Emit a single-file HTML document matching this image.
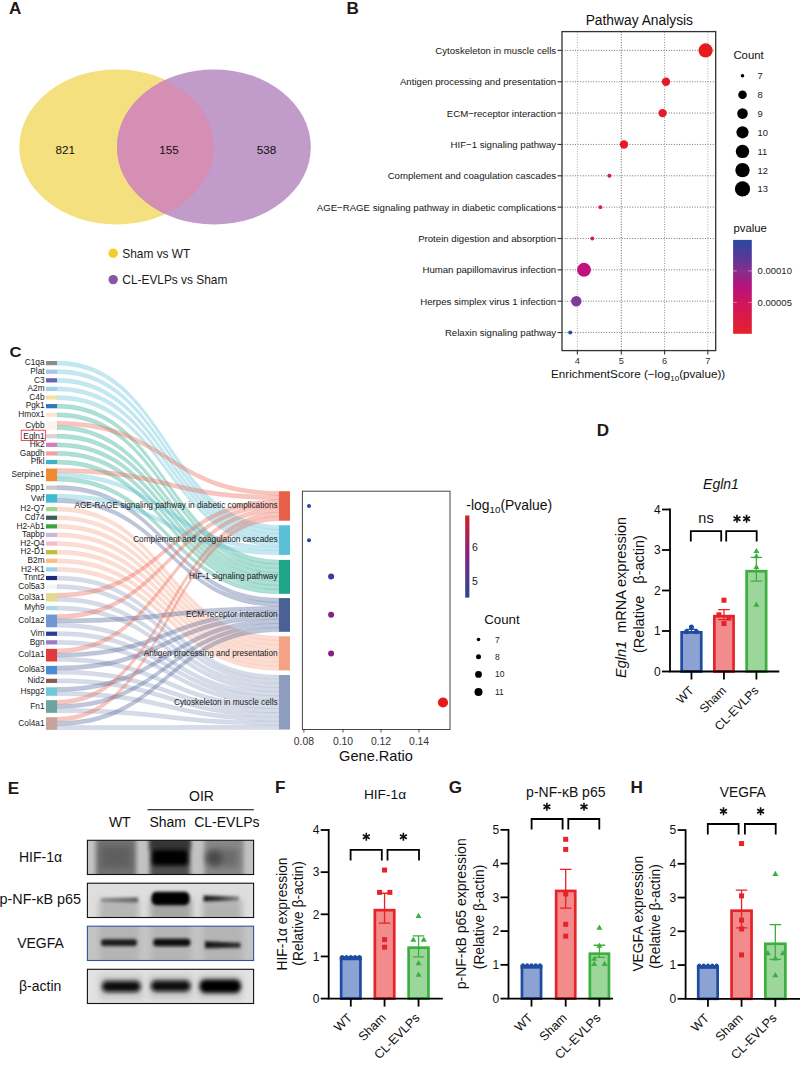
<!DOCTYPE html>
<html><head><meta charset="utf-8"><style>
html,body{margin:0;padding:0;background:#fff;}
svg{display:block;font-family:"Liberation Sans", sans-serif;}
</style></head><body>
<svg width="800" height="1066" viewBox="0 0 800 1066">
<rect width="800" height="1066" fill="#fff"/>
<text x="9.00" y="14.00" font-size="16" text-anchor="start" font-weight="bold" font-style="normal" fill="#231815" transform="translate(9.00 14.00) scale(1.07 1) translate(-9.00 -14.00)">A</text>
<defs><clipPath id="cpP"><ellipse cx="213.9" cy="147" rx="96.9" ry="77.6"/></clipPath></defs>
<ellipse cx="116.5" cy="147" rx="97.2" ry="77.6" fill="#F5E07F"/>
<ellipse cx="213.9" cy="147" rx="96.9" ry="77.6" fill="#C19BC9"/>
<ellipse cx="116.5" cy="147" rx="97.2" ry="77.6" fill="#D58FB4" clip-path="url(#cpP)"/>
<text x="65.20" y="154.20" font-size="11.7" text-anchor="middle" font-weight="normal" font-style="normal" fill="#111" >821</text>
<text x="169.00" y="154.20" font-size="11.7" text-anchor="middle" font-weight="normal" font-style="normal" fill="#111" >155</text>
<text x="266.60" y="154.20" font-size="11.7" text-anchor="middle" font-weight="normal" font-style="normal" fill="#111" >538</text>
<circle cx="113.2" cy="253.3" r="4.7" fill="#F2CE2A"/>
<circle cx="113.2" cy="279.6" r="4.7" fill="#8A55A6"/>
<text x="122.30" y="257.70" font-size="11.9" text-anchor="start" font-weight="normal" font-style="normal" fill="#1a1a1a" >Sham vs WT</text>
<text x="122.30" y="284.20" font-size="11.9" text-anchor="start" font-weight="normal" font-style="normal" fill="#1a1a1a" >CL-EVLPs vs Sham</text>
<text x="346.50" y="13.80" font-size="16" text-anchor="start" font-weight="bold" font-style="normal" fill="#231815" transform="translate(346.50 13.80) scale(1.07 1) translate(-346.50 -13.80)">B</text>
<text x="639.35" y="24.50" font-size="13.8" text-anchor="middle" font-weight="normal" font-style="normal" fill="#111" >Pathway Analysis</text>
<line x1="577.4" y1="31.6" x2="577.4" y2="350.6" stroke="#a0a0a0" stroke-width="0.9" stroke-dasharray="1 1.6"/>
<line x1="621.3" y1="31.6" x2="621.3" y2="350.6" stroke="#505050" stroke-width="0.9" stroke-dasharray="1 1.6"/>
<line x1="664.6" y1="31.6" x2="664.6" y2="350.6" stroke="#808080" stroke-width="0.9" stroke-dasharray="1 1.6"/>
<line x1="707.8" y1="31.6" x2="707.8" y2="350.6" stroke="#a8a8a8" stroke-width="0.9" stroke-dasharray="1 1.6"/>
<line x1="562.0" y1="50.40" x2="715.7" y2="50.40" stroke="#666" stroke-width="0.9" stroke-dasharray="1 1.6"/>
<line x1="562.0" y1="81.75" x2="715.7" y2="81.75" stroke="#666" stroke-width="0.9" stroke-dasharray="1 1.6"/>
<line x1="562.0" y1="113.10" x2="715.7" y2="113.10" stroke="#666" stroke-width="0.9" stroke-dasharray="1 1.6"/>
<line x1="562.0" y1="144.45" x2="715.7" y2="144.45" stroke="#666" stroke-width="0.9" stroke-dasharray="1 1.6"/>
<line x1="562.0" y1="175.80" x2="715.7" y2="175.80" stroke="#666" stroke-width="0.9" stroke-dasharray="1 1.6"/>
<line x1="562.0" y1="207.15" x2="715.7" y2="207.15" stroke="#666" stroke-width="0.9" stroke-dasharray="1 1.6"/>
<line x1="562.0" y1="238.50" x2="715.7" y2="238.50" stroke="#666" stroke-width="0.9" stroke-dasharray="1 1.6"/>
<line x1="562.0" y1="269.85" x2="715.7" y2="269.85" stroke="#666" stroke-width="0.9" stroke-dasharray="1 1.6"/>
<line x1="562.0" y1="301.20" x2="715.7" y2="301.20" stroke="#666" stroke-width="0.9" stroke-dasharray="1 1.6"/>
<line x1="562.0" y1="332.55" x2="715.7" y2="332.55" stroke="#666" stroke-width="0.9" stroke-dasharray="1 1.6"/>
<rect x="562.0" y="31.6" width="153.70" height="319.00" fill="none" stroke="#333" stroke-width="1.3"/>
<line x1="557.5" y1="50.40" x2="562.0" y2="50.40" stroke="#333" stroke-width="1.1"/>
<text x="556.20" y="53.80" font-size="9.65" text-anchor="end" font-weight="normal" font-style="normal" fill="#151515" >Cytoskeleton in muscle cells</text>
<line x1="557.5" y1="81.75" x2="562.0" y2="81.75" stroke="#333" stroke-width="1.1"/>
<text x="556.20" y="85.15" font-size="9.65" text-anchor="end" font-weight="normal" font-style="normal" fill="#151515" >Antigen processing and presentation</text>
<line x1="557.5" y1="113.10" x2="562.0" y2="113.10" stroke="#333" stroke-width="1.1"/>
<text x="556.20" y="116.50" font-size="9.65" text-anchor="end" font-weight="normal" font-style="normal" fill="#151515" >ECM−receptor interaction</text>
<line x1="557.5" y1="144.45" x2="562.0" y2="144.45" stroke="#333" stroke-width="1.1"/>
<text x="556.20" y="147.85" font-size="9.65" text-anchor="end" font-weight="normal" font-style="normal" fill="#151515" >HIF−1 signaling pathway</text>
<line x1="557.5" y1="175.80" x2="562.0" y2="175.80" stroke="#333" stroke-width="1.1"/>
<text x="556.20" y="179.20" font-size="9.65" text-anchor="end" font-weight="normal" font-style="normal" fill="#151515" >Complement and coagulation cascades</text>
<line x1="557.5" y1="207.15" x2="562.0" y2="207.15" stroke="#333" stroke-width="1.1"/>
<text x="556.20" y="210.55" font-size="9.65" text-anchor="end" font-weight="normal" font-style="normal" fill="#151515" >AGE−RAGE signaling pathway in diabetic complications</text>
<line x1="557.5" y1="238.50" x2="562.0" y2="238.50" stroke="#333" stroke-width="1.1"/>
<text x="556.20" y="241.90" font-size="9.65" text-anchor="end" font-weight="normal" font-style="normal" fill="#151515" >Protein digestion and absorption</text>
<line x1="557.5" y1="269.85" x2="562.0" y2="269.85" stroke="#333" stroke-width="1.1"/>
<text x="556.20" y="273.25" font-size="9.65" text-anchor="end" font-weight="normal" font-style="normal" fill="#151515" >Human papillomavirus infection</text>
<line x1="557.5" y1="301.20" x2="562.0" y2="301.20" stroke="#333" stroke-width="1.1"/>
<text x="556.20" y="304.60" font-size="9.65" text-anchor="end" font-weight="normal" font-style="normal" fill="#151515" >Herpes simplex virus 1 infection</text>
<line x1="557.5" y1="332.55" x2="562.0" y2="332.55" stroke="#333" stroke-width="1.1"/>
<text x="556.20" y="335.95" font-size="9.65" text-anchor="end" font-weight="normal" font-style="normal" fill="#151515" >Relaxin signaling pathway</text>
<line x1="577.4" y1="350.6" x2="577.4" y2="354.40000000000003" stroke="#333" stroke-width="1.1"/>
<text x="577.40" y="363.70" font-size="9.3" text-anchor="middle" font-weight="normal" font-style="normal" fill="#333" >4</text>
<line x1="621.3" y1="350.6" x2="621.3" y2="354.40000000000003" stroke="#333" stroke-width="1.1"/>
<text x="621.30" y="363.70" font-size="9.3" text-anchor="middle" font-weight="normal" font-style="normal" fill="#333" >5</text>
<line x1="664.6" y1="350.6" x2="664.6" y2="354.40000000000003" stroke="#333" stroke-width="1.1"/>
<text x="664.60" y="363.70" font-size="9.3" text-anchor="middle" font-weight="normal" font-style="normal" fill="#333" >6</text>
<line x1="707.8" y1="350.6" x2="707.8" y2="354.40000000000003" stroke="#333" stroke-width="1.1"/>
<text x="707.80" y="363.70" font-size="9.3" text-anchor="middle" font-weight="normal" font-style="normal" fill="#333" >7</text>
<text x="551.0" y="378.4" font-size="11.7" fill="#111">EnrichmentScore (−log<tspan font-size="8" dy="2.5">10</tspan><tspan dy="-2.5">(pvalue))</tspan></text>
<circle cx="705.6" cy="50.40" r="7.1" fill="#E41A1C"/>
<circle cx="666.0" cy="81.75" r="4.2" fill="#E31C26"/>
<circle cx="662.6" cy="113.10" r="4.2" fill="#E31C28"/>
<circle cx="624.0" cy="144.45" r="4.2" fill="#E21C2C"/>
<circle cx="609.4" cy="175.80" r="2.0" fill="#DC1A44"/>
<circle cx="600.4" cy="207.15" r="1.95" fill="#DA1A4A"/>
<circle cx="592.3" cy="238.50" r="1.95" fill="#D11860"/>
<circle cx="584.0" cy="269.85" r="7.0" fill="#C0117F"/>
<circle cx="576.3" cy="301.20" r="5.2" fill="#7E3A96"/>
<circle cx="570.2" cy="332.55" r="1.95" fill="#1E4AA0"/>
<text x="733.40" y="58.80" font-size="11.4" text-anchor="start" font-weight="normal" font-style="normal" fill="#111" >Count</text>
<circle cx="742.5" cy="75.7" r="1.8" fill="#000"/>
<text x="757.60" y="79.10" font-size="9.4" text-anchor="start" font-weight="normal" font-style="normal" fill="#222" >7</text>
<circle cx="742.5" cy="94.8" r="4.3" fill="#000"/>
<text x="757.60" y="98.20" font-size="9.4" text-anchor="start" font-weight="normal" font-style="normal" fill="#222" >8</text>
<circle cx="742.5" cy="113.6" r="5.3" fill="#000"/>
<text x="757.60" y="117.00" font-size="9.4" text-anchor="start" font-weight="normal" font-style="normal" fill="#222" >9</text>
<circle cx="742.5" cy="132.3" r="6.1" fill="#000"/>
<text x="757.60" y="135.70" font-size="9.4" text-anchor="start" font-weight="normal" font-style="normal" fill="#222" >10</text>
<circle cx="742.5" cy="151.4" r="6.7" fill="#000"/>
<text x="757.60" y="154.80" font-size="9.4" text-anchor="start" font-weight="normal" font-style="normal" fill="#222" >11</text>
<circle cx="742.5" cy="170.1" r="7.2" fill="#000"/>
<text x="757.60" y="173.50" font-size="9.4" text-anchor="start" font-weight="normal" font-style="normal" fill="#222" >12</text>
<circle cx="742.5" cy="188.9" r="7.6" fill="#000"/>
<text x="757.60" y="192.30" font-size="9.4" text-anchor="start" font-weight="normal" font-style="normal" fill="#222" >13</text>
<text x="733.40" y="232.20" font-size="11.4" text-anchor="start" font-weight="normal" font-style="normal" fill="#111" >pvalue</text>
<defs><linearGradient id="gB" x1="0" y1="0" x2="0" y2="1"><stop offset="0" stop-color="#2B48A0"/><stop offset="0.18" stop-color="#55399A"/><stop offset="0.33" stop-color="#852E8C"/><stop offset="0.48" stop-color="#B3137F"/><stop offset="0.66" stop-color="#CF155E"/><stop offset="1" stop-color="#E6202A"/></linearGradient></defs>
<rect x="733.1" y="239.9" width="18.7" height="93.9" fill="url(#gB)"/>
<line x1="733.1" y1="270.9" x2="736.8" y2="270.9" stroke="#eee" stroke-width="0.7" opacity="0.7"/>
<line x1="748.1" y1="270.9" x2="751.8" y2="270.9" stroke="#eee" stroke-width="0.7" opacity="0.7"/>
<text x="757.60" y="274.30" font-size="9.5" text-anchor="start" font-weight="normal" font-style="normal" fill="#222" >0.00010</text>
<line x1="733.1" y1="302.4" x2="736.8" y2="302.4" stroke="#eee" stroke-width="0.7" opacity="0.7"/>
<line x1="748.1" y1="302.4" x2="751.8" y2="302.4" stroke="#eee" stroke-width="0.7" opacity="0.7"/>
<text x="757.60" y="305.80" font-size="9.5" text-anchor="start" font-weight="normal" font-style="normal" fill="#222" >0.00005</text>
<text x="9.40" y="356.60" font-size="15.5" text-anchor="start" font-weight="bold" font-style="normal" fill="#231815" transform="translate(9.40 356.60) scale(1.07 1) translate(-9.40 -356.60)">C</text>
<g>
<path d="M57.0,361.00 C168.0,361.00 168.0,525.30 279.0,525.30 L279.0,529.53 C168.0,529.53 168.0,365.22 57.0,365.22 Z" fill="#5BBFD6" fill-opacity="0.36" stroke="#5BBFD6" stroke-opacity="0.22" stroke-width="0.6"/>
<path d="M57.0,369.61 C168.0,369.61 168.0,529.53 279.0,529.53 L279.0,533.76 C168.0,533.76 168.0,373.83 57.0,373.83 Z" fill="#5BBFD6" fill-opacity="0.36" stroke="#5BBFD6" stroke-opacity="0.22" stroke-width="0.6"/>
<path d="M57.0,378.22 C168.0,378.22 168.0,533.76 279.0,533.76 L279.0,537.99 C168.0,537.99 168.0,382.44 57.0,382.44 Z" fill="#5BBFD6" fill-opacity="0.36" stroke="#5BBFD6" stroke-opacity="0.22" stroke-width="0.6"/>
<path d="M57.0,386.83 C168.0,386.83 168.0,537.99 279.0,537.99 L279.0,542.21 C168.0,542.21 168.0,391.05 57.0,391.05 Z" fill="#5BBFD6" fill-opacity="0.36" stroke="#5BBFD6" stroke-opacity="0.22" stroke-width="0.6"/>
<path d="M57.0,395.44 C168.0,395.44 168.0,542.21 279.0,542.21 L279.0,546.44 C168.0,546.44 168.0,399.66 57.0,399.66 Z" fill="#5BBFD6" fill-opacity="0.36" stroke="#5BBFD6" stroke-opacity="0.22" stroke-width="0.6"/>
<path d="M57.0,404.05 C168.0,404.05 168.0,559.90 279.0,559.90 L279.0,564.14 C168.0,564.14 168.0,408.27 57.0,408.27 Z" fill="#1FA58A" fill-opacity="0.36" stroke="#1FA58A" stroke-opacity="0.22" stroke-width="0.6"/>
<path d="M57.0,412.66 C168.0,412.66 168.0,564.14 279.0,564.14 L279.0,568.37 C168.0,568.37 168.0,416.88 57.0,416.88 Z" fill="#1FA58A" fill-opacity="0.36" stroke="#1FA58A" stroke-opacity="0.22" stroke-width="0.6"/>
<path d="M57.0,421.27 C168.0,421.27 168.0,491.20 279.0,491.20 L279.0,495.41 C168.0,495.41 168.0,425.49 57.0,425.49 Z" fill="#E8604A" fill-opacity="0.36" stroke="#E8604A" stroke-opacity="0.22" stroke-width="0.6"/>
<path d="M57.0,425.49 C168.0,425.49 168.0,568.38 279.0,568.38 L279.0,572.61 C168.0,572.61 168.0,429.71 57.0,429.71 Z" fill="#1FA58A" fill-opacity="0.36" stroke="#1FA58A" stroke-opacity="0.22" stroke-width="0.6"/>
<path d="M57.0,434.10 C168.0,434.10 168.0,572.61 279.0,572.61 L279.0,576.85 C168.0,576.85 168.0,438.32 57.0,438.32 Z" fill="#1FA58A" fill-opacity="0.36" stroke="#1FA58A" stroke-opacity="0.22" stroke-width="0.6"/>
<path d="M57.0,442.71 C168.0,442.71 168.0,576.85 279.0,576.85 L279.0,581.09 C168.0,581.09 168.0,446.93 57.0,446.93 Z" fill="#1FA58A" fill-opacity="0.36" stroke="#1FA58A" stroke-opacity="0.22" stroke-width="0.6"/>
<path d="M57.0,451.32 C168.0,451.32 168.0,581.09 279.0,581.09 L279.0,585.32 C168.0,585.32 168.0,455.54 57.0,455.54 Z" fill="#1FA58A" fill-opacity="0.36" stroke="#1FA58A" stroke-opacity="0.22" stroke-width="0.6"/>
<path d="M57.0,459.93 C168.0,459.93 168.0,585.32 279.0,585.32 L279.0,589.56 C168.0,589.56 168.0,464.15 57.0,464.15 Z" fill="#1FA58A" fill-opacity="0.36" stroke="#1FA58A" stroke-opacity="0.22" stroke-width="0.6"/>
<path d="M57.0,468.54 C168.0,468.54 168.0,495.41 279.0,495.41 L279.0,499.63 C168.0,499.63 168.0,472.76 57.0,472.76 Z" fill="#E8604A" fill-opacity="0.36" stroke="#E8604A" stroke-opacity="0.22" stroke-width="0.6"/>
<path d="M57.0,472.76 C168.0,472.76 168.0,546.44 279.0,546.44 L279.0,550.67 C168.0,550.67 168.0,476.98 57.0,476.98 Z" fill="#5BBFD6" fill-opacity="0.36" stroke="#5BBFD6" stroke-opacity="0.22" stroke-width="0.6"/>
<path d="M57.0,476.98 C168.0,476.98 168.0,589.56 279.0,589.56 L279.0,593.80 C168.0,593.80 168.0,481.20 57.0,481.20 Z" fill="#1FA58A" fill-opacity="0.36" stroke="#1FA58A" stroke-opacity="0.22" stroke-width="0.6"/>
<path d="M57.0,485.59 C168.0,485.59 168.0,598.10 279.0,598.10 L279.0,602.31 C168.0,602.31 168.0,489.81 57.0,489.81 Z" fill="#4B6196" fill-opacity="0.36" stroke="#4B6196" stroke-opacity="0.22" stroke-width="0.6"/>
<path d="M57.0,494.20 C168.0,494.20 168.0,550.67 279.0,550.67 L279.0,554.90 C168.0,554.90 168.0,498.42 57.0,498.42 Z" fill="#5BBFD6" fill-opacity="0.36" stroke="#5BBFD6" stroke-opacity="0.22" stroke-width="0.6"/>
<path d="M57.0,498.42 C168.0,498.42 168.0,602.31 279.0,602.31 L279.0,606.52 C168.0,606.52 168.0,502.64 57.0,502.64 Z" fill="#4B6196" fill-opacity="0.36" stroke="#4B6196" stroke-opacity="0.22" stroke-width="0.6"/>
<path d="M57.0,507.03 C168.0,507.03 168.0,636.30 279.0,636.30 L279.0,640.56 C168.0,640.56 168.0,511.25 57.0,511.25 Z" fill="#F4A285" fill-opacity="0.36" stroke="#F4A285" stroke-opacity="0.22" stroke-width="0.6"/>
<path d="M57.0,515.64 C168.0,515.64 168.0,640.56 279.0,640.56 L279.0,644.83 C168.0,644.83 168.0,519.86 57.0,519.86 Z" fill="#F4A285" fill-opacity="0.36" stroke="#F4A285" stroke-opacity="0.22" stroke-width="0.6"/>
<path d="M57.0,524.25 C168.0,524.25 168.0,644.82 279.0,644.82 L279.0,649.09 C168.0,649.09 168.0,528.47 57.0,528.47 Z" fill="#F4A285" fill-opacity="0.36" stroke="#F4A285" stroke-opacity="0.22" stroke-width="0.6"/>
<path d="M57.0,532.86 C168.0,532.86 168.0,649.09 279.0,649.09 L279.0,653.35 C168.0,653.35 168.0,537.08 57.0,537.08 Z" fill="#F4A285" fill-opacity="0.36" stroke="#F4A285" stroke-opacity="0.22" stroke-width="0.6"/>
<path d="M57.0,541.47 C168.0,541.47 168.0,653.35 279.0,653.35 L279.0,657.61 C168.0,657.61 168.0,545.69 57.0,545.69 Z" fill="#F4A285" fill-opacity="0.36" stroke="#F4A285" stroke-opacity="0.22" stroke-width="0.6"/>
<path d="M57.0,550.08 C168.0,550.08 168.0,657.61 279.0,657.61 L279.0,661.88 C168.0,661.88 168.0,554.30 57.0,554.30 Z" fill="#F4A285" fill-opacity="0.36" stroke="#F4A285" stroke-opacity="0.22" stroke-width="0.6"/>
<path d="M57.0,558.69 C168.0,558.69 168.0,661.88 279.0,661.88 L279.0,666.14 C168.0,666.14 168.0,562.91 57.0,562.91 Z" fill="#F4A285" fill-opacity="0.36" stroke="#F4A285" stroke-opacity="0.22" stroke-width="0.6"/>
<path d="M57.0,567.30 C168.0,567.30 168.0,666.14 279.0,666.14 L279.0,670.40 C168.0,670.40 168.0,571.52 57.0,571.52 Z" fill="#F4A285" fill-opacity="0.36" stroke="#F4A285" stroke-opacity="0.22" stroke-width="0.6"/>
<path d="M57.0,575.91 C168.0,575.91 168.0,675.00 279.0,675.00 L279.0,679.19 C168.0,679.19 168.0,580.13 57.0,580.13 Z" fill="#8E9CC0" fill-opacity="0.36" stroke="#8E9CC0" stroke-opacity="0.22" stroke-width="0.6"/>
<path d="M57.0,584.52 C168.0,584.52 168.0,679.19 279.0,679.19 L279.0,683.38 C168.0,683.38 168.0,588.74 57.0,588.74 Z" fill="#8E9CC0" fill-opacity="0.36" stroke="#8E9CC0" stroke-opacity="0.22" stroke-width="0.6"/>
<path d="M57.0,593.13 C168.0,593.13 168.0,499.63 279.0,499.63 L279.0,503.84 C168.0,503.84 168.0,597.35 57.0,597.35 Z" fill="#E8604A" fill-opacity="0.36" stroke="#E8604A" stroke-opacity="0.22" stroke-width="0.6"/>
<path d="M57.0,597.35 C168.0,597.35 168.0,683.38 279.0,683.38 L279.0,687.58 C168.0,687.58 168.0,601.57 57.0,601.57 Z" fill="#8E9CC0" fill-opacity="0.36" stroke="#8E9CC0" stroke-opacity="0.22" stroke-width="0.6"/>
<path d="M57.0,605.96 C168.0,605.96 168.0,687.58 279.0,687.58 L279.0,691.77 C168.0,691.77 168.0,610.18 57.0,610.18 Z" fill="#8E9CC0" fill-opacity="0.36" stroke="#8E9CC0" stroke-opacity="0.22" stroke-width="0.6"/>
<path d="M57.0,614.57 C168.0,614.57 168.0,503.84 279.0,503.84 L279.0,508.06 C168.0,508.06 168.0,618.79 57.0,618.79 Z" fill="#E8604A" fill-opacity="0.36" stroke="#E8604A" stroke-opacity="0.22" stroke-width="0.6"/>
<path d="M57.0,618.79 C168.0,618.79 168.0,606.52 279.0,606.52 L279.0,610.74 C168.0,610.74 168.0,623.01 57.0,623.01 Z" fill="#4B6196" fill-opacity="0.36" stroke="#4B6196" stroke-opacity="0.22" stroke-width="0.6"/>
<path d="M57.0,623.01 C168.0,623.01 168.0,691.77 279.0,691.77 L279.0,695.96 C168.0,695.96 168.0,627.23 57.0,627.23 Z" fill="#8E9CC0" fill-opacity="0.36" stroke="#8E9CC0" stroke-opacity="0.22" stroke-width="0.6"/>
<path d="M57.0,631.62 C168.0,631.62 168.0,695.96 279.0,695.96 L279.0,700.15 C168.0,700.15 168.0,635.84 57.0,635.84 Z" fill="#8E9CC0" fill-opacity="0.36" stroke="#8E9CC0" stroke-opacity="0.22" stroke-width="0.6"/>
<path d="M57.0,640.23 C168.0,640.23 168.0,700.15 279.0,700.15 L279.0,704.35 C168.0,704.35 168.0,644.45 57.0,644.45 Z" fill="#8E9CC0" fill-opacity="0.36" stroke="#8E9CC0" stroke-opacity="0.22" stroke-width="0.6"/>
<path d="M57.0,648.84 C168.0,648.84 168.0,508.06 279.0,508.06 L279.0,512.27 C168.0,512.27 168.0,653.06 57.0,653.06 Z" fill="#E8604A" fill-opacity="0.36" stroke="#E8604A" stroke-opacity="0.22" stroke-width="0.6"/>
<path d="M57.0,653.06 C168.0,653.06 168.0,610.74 279.0,610.74 L279.0,614.95 C168.0,614.95 168.0,657.28 57.0,657.28 Z" fill="#4B6196" fill-opacity="0.36" stroke="#4B6196" stroke-opacity="0.22" stroke-width="0.6"/>
<path d="M57.0,657.28 C168.0,657.28 168.0,704.35 279.0,704.35 L279.0,708.54 C168.0,708.54 168.0,661.50 57.0,661.50 Z" fill="#8E9CC0" fill-opacity="0.36" stroke="#8E9CC0" stroke-opacity="0.22" stroke-width="0.6"/>
<path d="M57.0,665.89 C168.0,665.89 168.0,614.95 279.0,614.95 L279.0,619.16 C168.0,619.16 168.0,670.11 57.0,670.11 Z" fill="#4B6196" fill-opacity="0.36" stroke="#4B6196" stroke-opacity="0.22" stroke-width="0.6"/>
<path d="M57.0,670.11 C168.0,670.11 168.0,708.54 279.0,708.54 L279.0,712.73 C168.0,712.73 168.0,674.33 57.0,674.33 Z" fill="#8E9CC0" fill-opacity="0.36" stroke="#8E9CC0" stroke-opacity="0.22" stroke-width="0.6"/>
<path d="M57.0,678.72 C168.0,678.72 168.0,712.73 279.0,712.73 L279.0,716.92 C168.0,716.92 168.0,682.94 57.0,682.94 Z" fill="#8E9CC0" fill-opacity="0.36" stroke="#8E9CC0" stroke-opacity="0.22" stroke-width="0.6"/>
<path d="M57.0,687.33 C168.0,687.33 168.0,619.16 279.0,619.16 L279.0,623.38 C168.0,623.38 168.0,691.55 57.0,691.55 Z" fill="#4B6196" fill-opacity="0.36" stroke="#4B6196" stroke-opacity="0.22" stroke-width="0.6"/>
<path d="M57.0,691.55 C168.0,691.55 168.0,716.92 279.0,716.92 L279.0,721.12 C168.0,721.12 168.0,695.77 57.0,695.77 Z" fill="#8E9CC0" fill-opacity="0.36" stroke="#8E9CC0" stroke-opacity="0.22" stroke-width="0.6"/>
<path d="M57.0,700.16 C168.0,700.16 168.0,512.27 279.0,512.27 L279.0,516.49 C168.0,516.49 168.0,704.38 57.0,704.38 Z" fill="#E8604A" fill-opacity="0.36" stroke="#E8604A" stroke-opacity="0.22" stroke-width="0.6"/>
<path d="M57.0,704.38 C168.0,704.38 168.0,623.38 279.0,623.38 L279.0,627.59 C168.0,627.59 168.0,708.60 57.0,708.60 Z" fill="#4B6196" fill-opacity="0.36" stroke="#4B6196" stroke-opacity="0.22" stroke-width="0.6"/>
<path d="M57.0,708.60 C168.0,708.60 168.0,721.12 279.0,721.12 L279.0,725.31 C168.0,725.31 168.0,712.82 57.0,712.82 Z" fill="#8E9CC0" fill-opacity="0.36" stroke="#8E9CC0" stroke-opacity="0.22" stroke-width="0.6"/>
<path d="M57.0,717.21 C168.0,717.21 168.0,516.49 279.0,516.49 L279.0,520.70 C168.0,520.70 168.0,721.43 57.0,721.43 Z" fill="#E8604A" fill-opacity="0.36" stroke="#E8604A" stroke-opacity="0.22" stroke-width="0.6"/>
<path d="M57.0,721.43 C168.0,721.43 168.0,627.59 279.0,627.59 L279.0,631.80 C168.0,631.80 168.0,725.65 57.0,725.65 Z" fill="#4B6196" fill-opacity="0.36" stroke="#4B6196" stroke-opacity="0.22" stroke-width="0.6"/>
<path d="M57.0,725.65 C168.0,725.65 168.0,725.31 279.0,725.31 L279.0,729.50 C168.0,729.50 168.0,729.87 57.0,729.87 Z" fill="#8E9CC0" fill-opacity="0.36" stroke="#8E9CC0" stroke-opacity="0.22" stroke-width="0.6"/>
</g>
<rect x="46" y="361.00" width="11" height="4.22" fill="#8C8C8C"/>
<text x="44.60" y="365.41" font-size="8.3" text-anchor="end" font-weight="normal" font-style="normal" fill="#1a1a1a" >C1qa</text>
<rect x="46" y="369.61" width="11" height="4.22" fill="#A9C4E6"/>
<text x="44.60" y="374.02" font-size="8.3" text-anchor="end" font-weight="normal" font-style="normal" fill="#1a1a1a" >Plat</text>
<rect x="46" y="378.22" width="11" height="4.22" fill="#6B62B5"/>
<text x="44.60" y="382.63" font-size="8.3" text-anchor="end" font-weight="normal" font-style="normal" fill="#1a1a1a" >C3</text>
<rect x="46" y="386.83" width="11" height="4.22" fill="#9ED3E3"/>
<text x="44.60" y="391.24" font-size="8.3" text-anchor="end" font-weight="normal" font-style="normal" fill="#1a1a1a" >A2m</text>
<rect x="46" y="395.44" width="11" height="4.22" fill="#F9DFA3"/>
<text x="44.60" y="399.85" font-size="8.3" text-anchor="end" font-weight="normal" font-style="normal" fill="#1a1a1a" >C4b</text>
<rect x="46" y="404.05" width="11" height="4.22" fill="#2F78BE"/>
<text x="44.60" y="408.46" font-size="8.3" text-anchor="end" font-weight="normal" font-style="normal" fill="#1a1a1a" >Pgk1</text>
<rect x="46" y="412.66" width="11" height="4.22" fill="#FBE6D2"/>
<text x="44.60" y="417.07" font-size="8.3" text-anchor="end" font-weight="normal" font-style="normal" fill="#1a1a1a" >Hmox1</text>
<rect x="46" y="421.27" width="11" height="8.44" fill="#FDF5EC"/>
<text x="44.60" y="427.79" font-size="8.3" text-anchor="end" font-weight="normal" font-style="normal" fill="#1a1a1a" >Cybb</text>
<rect x="46" y="434.10" width="11" height="4.22" fill="#D6D6D6"/>
<text x="44.60" y="438.51" font-size="8.3" text-anchor="end" font-weight="normal" font-style="normal" fill="#1a1a1a" >Egln1</text>
<rect x="46" y="442.71" width="11" height="4.22" fill="#D47DBD"/>
<text x="44.60" y="447.12" font-size="8.3" text-anchor="end" font-weight="normal" font-style="normal" fill="#1a1a1a" >Hk2</text>
<rect x="46" y="451.32" width="11" height="4.22" fill="#F2A0A0"/>
<text x="44.60" y="455.73" font-size="8.3" text-anchor="end" font-weight="normal" font-style="normal" fill="#1a1a1a" >Gapdh</text>
<rect x="46" y="459.93" width="11" height="4.22" fill="#3BB3C6"/>
<text x="44.60" y="464.34" font-size="8.3" text-anchor="end" font-weight="normal" font-style="normal" fill="#1a1a1a" >Pfkl</text>
<rect x="46" y="468.54" width="11" height="12.66" fill="#F0892F"/>
<text x="44.60" y="477.17" font-size="8.3" text-anchor="end" font-weight="normal" font-style="normal" fill="#1a1a1a" >Serpine1</text>
<rect x="46" y="485.59" width="11" height="4.22" fill="#CBCBCB"/>
<text x="44.60" y="490.00" font-size="8.3" text-anchor="end" font-weight="normal" font-style="normal" fill="#1a1a1a" >Spp1</text>
<rect x="46" y="494.20" width="11" height="8.44" fill="#3FBAD0"/>
<text x="44.60" y="500.72" font-size="8.3" text-anchor="end" font-weight="normal" font-style="normal" fill="#1a1a1a" >Vwf</text>
<rect x="46" y="507.03" width="11" height="4.22" fill="#A0D58F"/>
<text x="44.60" y="511.44" font-size="8.3" text-anchor="end" font-weight="normal" font-style="normal" fill="#1a1a1a" >H2-Q7</text>
<rect x="46" y="515.64" width="11" height="4.22" fill="#3C5D5C"/>
<text x="44.60" y="520.05" font-size="8.3" text-anchor="end" font-weight="normal" font-style="normal" fill="#1a1a1a" >Cd74</text>
<rect x="46" y="524.25" width="11" height="4.22" fill="#3AA53A"/>
<text x="44.60" y="528.66" font-size="8.3" text-anchor="end" font-weight="normal" font-style="normal" fill="#1a1a1a" >H2-Ab1</text>
<rect x="46" y="532.86" width="11" height="4.22" fill="#C8B6DC"/>
<text x="44.60" y="537.27" font-size="8.3" text-anchor="end" font-weight="normal" font-style="normal" fill="#1a1a1a" >Tapbp</text>
<rect x="46" y="541.47" width="11" height="4.22" fill="#F6B8D5"/>
<text x="44.60" y="545.88" font-size="8.3" text-anchor="end" font-weight="normal" font-style="normal" fill="#1a1a1a" >H2-Q4</text>
<rect x="46" y="550.08" width="11" height="4.22" fill="#BFBE38"/>
<text x="44.60" y="554.49" font-size="8.3" text-anchor="end" font-weight="normal" font-style="normal" fill="#1a1a1a" >H2-D1</text>
<rect x="46" y="558.69" width="11" height="4.22" fill="#F9BE82"/>
<text x="44.60" y="563.10" font-size="8.3" text-anchor="end" font-weight="normal" font-style="normal" fill="#1a1a1a" >B2m</text>
<rect x="46" y="567.30" width="11" height="4.22" fill="#9BD3EE"/>
<text x="44.60" y="571.71" font-size="8.3" text-anchor="end" font-weight="normal" font-style="normal" fill="#1a1a1a" >H2-K1</text>
<rect x="46" y="575.91" width="11" height="4.22" fill="#1B2A7E"/>
<text x="44.60" y="580.32" font-size="8.3" text-anchor="end" font-weight="normal" font-style="normal" fill="#1a1a1a" >Tnnt2</text>
<rect x="46" y="584.52" width="11" height="4.22" fill="#EEF6F8"/>
<text x="44.60" y="588.93" font-size="8.3" text-anchor="end" font-weight="normal" font-style="normal" fill="#1a1a1a" >Col5a3</text>
<rect x="46" y="593.13" width="11" height="8.44" fill="#DEDC8E"/>
<text x="44.60" y="599.65" font-size="8.3" text-anchor="end" font-weight="normal" font-style="normal" fill="#1a1a1a" >Col3a1</text>
<rect x="46" y="605.96" width="11" height="4.22" fill="#A9D9E8"/>
<text x="44.60" y="610.37" font-size="8.3" text-anchor="end" font-weight="normal" font-style="normal" fill="#1a1a1a" >Myh9</text>
<rect x="46" y="614.57" width="11" height="12.66" fill="#6E98D2"/>
<text x="44.60" y="623.20" font-size="8.3" text-anchor="end" font-weight="normal" font-style="normal" fill="#1a1a1a" >Col1a2</text>
<rect x="46" y="631.62" width="11" height="4.22" fill="#233F98"/>
<text x="44.60" y="636.03" font-size="8.3" text-anchor="end" font-weight="normal" font-style="normal" fill="#1a1a1a" >Vim</text>
<rect x="46" y="640.23" width="11" height="4.22" fill="#9B7BC1"/>
<text x="44.60" y="644.64" font-size="8.3" text-anchor="end" font-weight="normal" font-style="normal" fill="#1a1a1a" >Bgn</text>
<rect x="46" y="648.84" width="11" height="12.66" fill="#E03C3E"/>
<text x="44.60" y="657.47" font-size="8.3" text-anchor="end" font-weight="normal" font-style="normal" fill="#1a1a1a" >Col1a1</text>
<rect x="46" y="665.89" width="11" height="8.44" fill="#4A8DD6"/>
<text x="44.60" y="672.41" font-size="8.3" text-anchor="end" font-weight="normal" font-style="normal" fill="#1a1a1a" >Col6a3</text>
<rect x="46" y="678.72" width="11" height="4.22" fill="#8E5B52"/>
<text x="44.60" y="683.13" font-size="8.3" text-anchor="end" font-weight="normal" font-style="normal" fill="#1a1a1a" >Nid2</text>
<rect x="46" y="687.33" width="11" height="8.44" fill="#6FC7D9"/>
<text x="44.60" y="693.85" font-size="8.3" text-anchor="end" font-weight="normal" font-style="normal" fill="#1a1a1a" >Hspg2</text>
<rect x="46" y="700.16" width="11" height="12.66" fill="#6BA39F"/>
<text x="44.60" y="708.79" font-size="8.3" text-anchor="end" font-weight="normal" font-style="normal" fill="#1a1a1a" >Fn1</text>
<rect x="46" y="717.21" width="11" height="12.66" fill="#C8A39B"/>
<text x="44.60" y="725.84" font-size="8.3" text-anchor="end" font-weight="normal" font-style="normal" fill="#1a1a1a" >Col4a1</text>
<rect x="21.2" y="430.2" width="24.1" height="10.2" fill="none" stroke="#E8242C" stroke-width="0.8"/>
<rect x="279.0" y="491.2" width="11" height="29.50" fill="#E8604A"/>
<text x="277.60" y="508.25" font-size="8.25" text-anchor="end" font-weight="normal" font-style="normal" fill="#1a1a1a" >AGE-RAGE signaling pathway in diabetic complications</text>
<rect x="279.0" y="525.3" width="11" height="29.60" fill="#5BBFD6"/>
<text x="277.60" y="542.40" font-size="8.25" text-anchor="end" font-weight="normal" font-style="normal" fill="#1a1a1a" >Complement and coagulation cascades</text>
<rect x="279.0" y="559.9" width="11" height="33.90" fill="#1FA58A"/>
<text x="277.60" y="579.15" font-size="8.25" text-anchor="end" font-weight="normal" font-style="normal" fill="#1a1a1a" >HIF-1 signaling pathway</text>
<rect x="279.0" y="598.1" width="11" height="33.70" fill="#4B6196"/>
<text x="277.60" y="617.25" font-size="8.25" text-anchor="end" font-weight="normal" font-style="normal" fill="#1a1a1a" >ECM-receptor interaction</text>
<rect x="279.0" y="636.3" width="11" height="34.10" fill="#F4A285"/>
<text x="277.60" y="655.65" font-size="8.25" text-anchor="end" font-weight="normal" font-style="normal" fill="#1a1a1a" >Antigen processing and presentation</text>
<rect x="279.0" y="675.0" width="11" height="54.50" fill="#8E9CC0"/>
<text x="277.60" y="704.55" font-size="8.25" text-anchor="end" font-weight="normal" font-style="normal" fill="#1a1a1a" >Cytoskeleton in muscle cells</text>
<rect x="302.4" y="491.2" width="147.60000000000002" height="238.3" fill="none" stroke="#444" stroke-width="1"/>
<line x1="303.9" y1="729.5" x2="303.9" y2="732.5" stroke="#444" stroke-width="0.9"/>
<text x="303.90" y="744.60" font-size="10.4" text-anchor="middle" font-weight="normal" font-style="normal" fill="#333" >0.08</text>
<line x1="343.0" y1="729.5" x2="343.0" y2="732.5" stroke="#444" stroke-width="0.9"/>
<text x="343.00" y="744.60" font-size="10.4" text-anchor="middle" font-weight="normal" font-style="normal" fill="#333" >0.10</text>
<line x1="381.0" y1="729.5" x2="381.0" y2="732.5" stroke="#444" stroke-width="0.9"/>
<text x="381.00" y="744.60" font-size="10.4" text-anchor="middle" font-weight="normal" font-style="normal" fill="#333" >0.12</text>
<line x1="419.0" y1="729.5" x2="419.0" y2="732.5" stroke="#444" stroke-width="0.9"/>
<text x="419.00" y="744.60" font-size="10.4" text-anchor="middle" font-weight="normal" font-style="normal" fill="#333" >0.14</text>
<text x="376.00" y="761.00" font-size="14.6" text-anchor="middle" font-weight="normal" font-style="normal" fill="#111" >Gene.Ratio</text>
<circle cx="309.0" cy="505.9" r="2.0" fill="#2448A0"/>
<circle cx="309.0" cy="540.2" r="2.0" fill="#2448A0"/>
<circle cx="331.1" cy="576.5" r="3.0" fill="#383C9A"/>
<circle cx="331.1" cy="614.7" r="3.0" fill="#8A1F7E"/>
<circle cx="331.1" cy="653.4" r="3.0" fill="#8A1F7E"/>
<circle cx="443.0" cy="702.5" r="5.1" fill="#E41A1C"/>
<text x="466.3" y="509.6" font-size="13.9" fill="#111">-log<tspan font-size="9.8" dy="3.2">10</tspan><tspan dy="-3.2">(Pvalue)</tspan></text>
<defs><linearGradient id="gC" x1="0" y1="0" x2="0" y2="1"><stop offset="0" stop-color="#E31A1C"/><stop offset="0.45" stop-color="#8E1F7E"/><stop offset="1" stop-color="#2448A0"/></linearGradient></defs>
<rect x="465.2" y="515.7" width="4" height="81.8" fill="url(#gC)" stroke="#666" stroke-width="0.3"/>
<text x="472.00" y="551.30" font-size="10.5" text-anchor="start" font-weight="normal" font-style="normal" fill="#222" >6</text>
<text x="472.00" y="585.10" font-size="10.5" text-anchor="start" font-weight="normal" font-style="normal" fill="#222" >5</text>
<text x="484.20" y="623.70" font-size="13.3" text-anchor="start" font-weight="normal" font-style="normal" fill="#111" >Count</text>
<circle cx="478.5" cy="639.5" r="1.8" fill="#000"/>
<text x="495.00" y="642.50" font-size="8.5" text-anchor="start" font-weight="normal" font-style="normal" fill="#222" >7</text>
<circle cx="478.5" cy="656.7" r="2.5" fill="#000"/>
<text x="495.00" y="659.70" font-size="8.5" text-anchor="start" font-weight="normal" font-style="normal" fill="#222" >8</text>
<circle cx="478.5" cy="674.4" r="3.4" fill="#000"/>
<text x="495.00" y="677.40" font-size="8.5" text-anchor="start" font-weight="normal" font-style="normal" fill="#222" >10</text>
<circle cx="478.5" cy="692.0" r="4.0" fill="#000"/>
<text x="495.00" y="695.00" font-size="8.5" text-anchor="start" font-weight="normal" font-style="normal" fill="#222" >11</text>
<text x="7.70" y="793.60" font-size="16" text-anchor="start" font-weight="bold" font-style="normal" fill="#231815" transform="translate(7.70 793.60) scale(1.07 1) translate(-7.70 -793.60)">E</text>
<text x="119.80" y="826.70" font-size="14" text-anchor="middle" font-weight="normal" font-style="normal" fill="#111" >WT</text>
<text x="167.70" y="826.70" font-size="14" text-anchor="middle" font-weight="normal" font-style="normal" fill="#111" >Sham</text>
<text x="226.90" y="826.70" font-size="14" text-anchor="middle" font-weight="normal" font-style="normal" fill="#111" >CL-EVLPs</text>
<text x="201.50" y="801.00" font-size="14" text-anchor="middle" font-weight="normal" font-style="normal" fill="#111" >OIR</text>
<line x1="147.5" y1="809.8" x2="253.8" y2="809.8" stroke="#000" stroke-width="1.1"/>
<text x="19.00" y="861.80" font-size="14" text-anchor="start" font-weight="normal" font-style="normal" fill="#111" >HIF-1α</text>
<text x="-0.50" y="904.30" font-size="14.4" text-anchor="start" font-weight="normal" font-style="normal" fill="#111" >p-NF-κB p65</text>
<text x="17.20" y="948.20" font-size="14" text-anchor="start" font-weight="normal" font-style="normal" fill="#111" >VEGFA</text>
<text x="19.00" y="991.00" font-size="14" text-anchor="start" font-weight="normal" font-style="normal" fill="#111" >β-actin</text>
<defs><filter id="b2" x="-50%" y="-50%" width="200%" height="200%"><feGaussianBlur stdDeviation="2"/></filter><filter id="b3" x="-50%" y="-50%" width="200%" height="200%"><feGaussianBlur stdDeviation="3.2"/></filter><filter id="b1" x="-50%" y="-50%" width="200%" height="200%"><feGaussianBlur stdDeviation="1.2"/></filter><filter id="b15" x="-50%" y="-50%" width="200%" height="200%"><feGaussianBlur stdDeviation="1.6"/></filter></defs>
<defs><clipPath id="wb0"><rect x="87.4" y="840.3" width="166.2" height="34.200000000000045"/></clipPath></defs>
<defs><clipPath id="wb1"><rect x="87.4" y="883.2" width="166.2" height="34.299999999999955"/></clipPath></defs>
<defs><clipPath id="wb2"><rect x="87.4" y="926.2" width="166.2" height="34.299999999999955"/></clipPath></defs>
<defs><clipPath id="wb3"><rect x="87.4" y="969.3" width="166.2" height="34.200000000000045"/></clipPath></defs>
<g clip-path="url(#wb0)">
<rect x="87.4" y="840.3" width="166.2" height="34.200000000000045" fill="#C2C2C2"/>
<rect x="96" y="838" width="40" height="40" fill="#727272" filter="url(#b2)"/>
<rect x="101" y="846" width="30" height="22" fill="#5E5E5E" filter="url(#b3)"/>
<rect x="150" y="836" width="40" height="44" fill="#505050" filter="url(#b2)"/>
<rect x="150" y="838" width="40" height="12" fill="#353535" filter="url(#b2)"/>
<rect x="152" y="849.5" width="36" height="16" rx="3" fill="#000" filter="url(#b2)"/>
<rect x="204.5" y="836" width="39" height="44" fill="#888" filter="url(#b2)"/>
<rect x="210" y="849" width="28" height="18" fill="#6C6C6C" filter="url(#b3)"/>
<ellipse cx="214" cy="858" rx="8.5" ry="7.5" fill="#484848" filter="url(#b3)"/>
</g>
<g clip-path="url(#wb1)">
<rect x="87.4" y="883.2" width="166.2" height="34.299999999999955" fill="#DEDEDE"/>
<rect x="99" y="900" width="40" height="22" fill="#B6B6B6" filter="url(#b3)"/>
<rect x="150" y="898" width="42" height="24" fill="#A6A6A6" filter="url(#b3)"/>
<rect x="202" y="900" width="40" height="22" fill="#B2B2B2" filter="url(#b3)"/>
<defs><linearGradient id="gn1" x1="0" x2="1" y1="0" y2="0"><stop offset="0" stop-color="#8E8E8E"/><stop offset="1" stop-color="#5E5E5E"/></linearGradient><linearGradient id="gn3" x1="0" x2="1" y1="0" y2="0"><stop offset="0" stop-color="#151515"/><stop offset="0.45" stop-color="#3A3A3A"/><stop offset="1" stop-color="#8A8A8A"/></linearGradient><linearGradient id="gv3" x1="0" x2="1" y1="0" y2="0"><stop offset="0" stop-color="#151515"/><stop offset="1" stop-color="#2E2E2E"/></linearGradient></defs>
<path d="M101,898.3 L138,897.6 L138,902.6 L101,902.3 Z" fill="url(#gn1)" filter="url(#b15)"/>
<rect x="151.5" y="891.8" width="38" height="13.5" rx="5" fill="#000" filter="url(#b15)"/>
<path d="M203.5,895.6 L239,896.5 L239,901.0 L203.5,901.5 Z" fill="url(#gn3)" filter="url(#b15)"/>
</g>
<g clip-path="url(#wb2)">
<rect x="87.4" y="926.2" width="166.2" height="34.299999999999955" fill="#C4C4C4"/>
<rect x="99" y="922" width="40" height="42" fill="#B4B4B4" filter="url(#b3)"/>
<rect x="151" y="922" width="40" height="42" fill="#B4B4B4" filter="url(#b3)"/>
<rect x="203" y="922" width="40" height="42" fill="#B4B4B4" filter="url(#b3)"/>
<rect x="101" y="939.3" width="36" height="6.8" rx="3" fill="#1C1C1C" filter="url(#b15)"/>
<rect x="153.3" y="938.8" width="37" height="7.4" rx="3" fill="#111" filter="url(#b15)"/>
<path d="M205,941.2 L240.5,942.8 L240.5,947.8 L205,948.2 Z" fill="url(#gv3)" filter="url(#b15)"/>
</g>
<g clip-path="url(#wb3)">
<rect x="87.4" y="969.3" width="166.2" height="34.200000000000045" fill="#E2E2E2"/>
<rect x="99" y="975" width="44" height="24" fill="#C8C8C8" filter="url(#b3)"/>
<rect x="149" y="975" width="44" height="24" fill="#C8C8C8" filter="url(#b3)"/>
<rect x="198" y="975" width="44" height="24" fill="#C8C8C8" filter="url(#b3)"/>
<rect x="102" y="981" width="38.5" height="11" rx="5" fill="#080808" filter="url(#b2)"/>
<rect x="151" y="980.5" width="39.5" height="11" rx="5" fill="#080808" filter="url(#b2)"/>
<rect x="199.5" y="979.5" width="41.5" height="13.5" rx="6" fill="#000" filter="url(#b2)"/>
</g>
<rect x="87.4" y="840.3" width="166.20" height="34.20" fill="none" stroke="#111" stroke-width="1.1"/>
<rect x="87.4" y="883.2" width="166.20" height="34.30" fill="none" stroke="#111" stroke-width="1.1"/>
<rect x="87.4" y="926.2" width="166.20" height="34.30" fill="none" stroke="#2F52A0" stroke-width="1.1"/>
<rect x="87.4" y="969.3" width="166.20" height="34.20" fill="none" stroke="#111" stroke-width="1.1"/>
<text x="596.80" y="435.75" font-size="16" text-anchor="start" font-weight="bold" font-style="normal" fill="#231815" transform="translate(596.80 435.75) scale(1.07 1) translate(-596.80 -435.75)">D</text>
<text x="274.90" y="793.00" font-size="16" text-anchor="start" font-weight="bold" font-style="normal" fill="#231815" transform="translate(274.90 793.00) scale(1.07 1) translate(-274.90 -793.00)">F</text>
<text x="448.80" y="793.20" font-size="16" text-anchor="start" font-weight="bold" font-style="normal" fill="#231815" transform="translate(448.80 793.20) scale(1.07 1) translate(-448.80 -793.20)">G</text>
<text x="630.50" y="793.20" font-size="16" text-anchor="start" font-weight="bold" font-style="normal" fill="#231815" transform="translate(630.50 793.20) scale(1.07 1) translate(-630.50 -793.20)">H</text>
<rect x="681.65" y="632.35" width="19.60" height="39.15" fill="#8BA2D2" stroke="#1E4CA0" stroke-width="2.7"/>
<rect x="714.35" y="616.15" width="19.20" height="55.35" fill="#F28B8B" stroke="#E82229" stroke-width="2.7"/>
<rect x="746.65" y="571.20" width="19.50" height="100.30" fill="#9DD69A" stroke="#3BAF3F" stroke-width="2.7"/>
<path d="M691.45,632.62 V629.38 M685.70,629.38 H697.20 M685.70,632.62 H697.20" stroke="#1E4CA0" stroke-width="1.3" fill="none"/>
<circle cx="691.45" cy="626.95" r="2.5" fill="#1E4CA0"/>
<circle cx="686.45" cy="631.81" r="2.5" fill="#1E4CA0"/>
<circle cx="696.45" cy="631.81" r="2.5" fill="#1E4CA0"/>
<path d="M723.95,619.66 V609.53 M718.20,609.53 H729.70 M718.20,619.66 H729.70" stroke="#E82229" stroke-width="1.3" fill="none"/>
<rect x="721.45" y="597.72" width="5" height="5" fill="#E82229"/>
<rect x="726.45" y="615.54" width="5" height="5" fill="#E82229"/>
<rect x="721.45" y="621.01" width="5" height="5" fill="#E82229"/>
<rect x="716.45" y="612.30" width="5" height="5" fill="#E82229"/>
<path d="M756.40,581.18 V557.29 M750.65,557.29 H762.15 M750.65,581.18 H762.15" stroke="#3BAF3F" stroke-width="1.3" fill="none"/>
<path d="M756.40,547.88 L759.40,553.10 L753.40,553.10 Z" fill="#3BAF3F"/>
<path d="M756.40,552.94 L759.40,558.16 L753.40,558.16 Z" fill="#3BAF3F"/>
<path d="M756.40,563.88 L759.40,569.10 L753.40,569.10 Z" fill="#3BAF3F"/>
<path d="M756.40,601.54 L759.40,606.76 L753.40,606.76 Z" fill="#3BAF3F"/>
<path d="M670.00,508.60 V671.50 H779.30" stroke="#000" stroke-width="1.8" fill="none"/>
<line x1="662.00" y1="671.50" x2="670.00" y2="671.50" stroke="#000" stroke-width="1.8"/>
<text x="660.70" y="675.80" font-size="12" text-anchor="end" font-weight="normal" font-style="normal" fill="#111" >0</text>
<line x1="662.00" y1="631.00" x2="670.00" y2="631.00" stroke="#000" stroke-width="1.8"/>
<text x="660.70" y="635.30" font-size="12" text-anchor="end" font-weight="normal" font-style="normal" fill="#111" >1</text>
<line x1="662.00" y1="590.50" x2="670.00" y2="590.50" stroke="#000" stroke-width="1.8"/>
<text x="660.70" y="594.80" font-size="12" text-anchor="end" font-weight="normal" font-style="normal" fill="#111" >2</text>
<line x1="662.00" y1="550.00" x2="670.00" y2="550.00" stroke="#000" stroke-width="1.8"/>
<text x="660.70" y="554.30" font-size="12" text-anchor="end" font-weight="normal" font-style="normal" fill="#111" >3</text>
<line x1="662.00" y1="509.50" x2="670.00" y2="509.50" stroke="#000" stroke-width="1.8"/>
<text x="660.70" y="513.80" font-size="12" text-anchor="end" font-weight="normal" font-style="normal" fill="#111" >4</text>
<line x1="691.45" y1="671.50" x2="691.45" y2="679.50" stroke="#000" stroke-width="1.8"/>
<line x1="723.95" y1="671.50" x2="723.95" y2="679.50" stroke="#000" stroke-width="1.8"/>
<line x1="756.40" y1="671.50" x2="756.40" y2="679.50" stroke="#000" stroke-width="1.8"/>
<text x="694.45" y="691.30" font-size="12.1" text-anchor="end" fill="#111" transform="rotate(-45 694.45 691.30)">WT</text>
<text x="726.95" y="691.30" font-size="12.1" text-anchor="end" fill="#111" transform="rotate(-45 726.95 691.30)">Sham</text>
<text x="759.40" y="691.30" font-size="12.1" text-anchor="end" fill="#111" transform="rotate(-45 759.40 691.30)">CL-EVLPs</text>
<text x="721.00" y="488.75" font-size="14" text-anchor="middle" fill="#111" font-style="italic">Egln1</text>
<path d="M690.8,541.5 V531.2 H721.2 V541.5 M726.2,541.5 V531.2 H756.7 V541.5" stroke="#000" stroke-width="1.8" fill="none"/>
<text x="706.00" y="523.20" font-size="14.5" text-anchor="middle" font-weight="normal" font-style="normal" fill="#111" >ns</text>
<path d="M737.00,514.70 L737.00,522.70 M733.54,516.70 L740.46,520.70 M733.54,520.70 L740.46,516.70 " stroke="#111" stroke-width="1.6" fill="none"/>
<path d="M746.60,514.70 L746.60,522.70 M743.14,516.70 L750.06,520.70 M743.14,520.70 L750.06,516.70 " stroke="#111" stroke-width="1.6" fill="none"/>
<text x="625.8" y="597.4" font-size="14.5" text-anchor="middle" fill="#111" transform="rotate(-90 625.8 597.4)" xml:space="preserve"><tspan font-style="italic">Egln1</tspan>  mRNA expression</text>
<text x="643.6" y="594.0" font-size="14.5" text-anchor="middle" fill="#111" transform="rotate(-90 643.6 594.0)" xml:space="preserve">(Relative   β-actin)</text>
<rect x="341.15" y="957.80" width="19.30" height="40.80" fill="#8BA2D2" stroke="#1E4CA0" stroke-width="2.7"/>
<rect x="374.85" y="910.17" width="19.40" height="88.43" fill="#F28B8B" stroke="#E82229" stroke-width="2.7"/>
<rect x="408.65" y="947.68" width="19.80" height="50.92" fill="#9DD69A" stroke="#3BAF3F" stroke-width="2.7"/>
<rect x="339.80" y="956.45" width="22.00" height="3.8" fill="#1E4CA0"/>
<circle cx="342.20" cy="956.85" r="1.9" fill="#1E4CA0"/>
<circle cx="346.50" cy="956.85" r="1.9" fill="#1E4CA0"/>
<circle cx="350.80" cy="956.85" r="1.9" fill="#1E4CA0"/>
<circle cx="355.10" cy="956.85" r="1.9" fill="#1E4CA0"/>
<circle cx="359.40" cy="956.85" r="1.9" fill="#1E4CA0"/>
<path d="M384.55,923.15 V893.23 M378.80,893.23 H390.30 M378.80,923.15 H390.30" stroke="#E82229" stroke-width="1.3" fill="none"/>
<rect x="377.05" y="889.88" width="5" height="5" fill="#E82229"/>
<rect x="387.35" y="889.88" width="5" height="5" fill="#E82229"/>
<rect x="382.05" y="867.54" width="5" height="5" fill="#E82229"/>
<rect x="382.05" y="937.09" width="5" height="5" fill="#E82229"/>
<rect x="382.05" y="944.68" width="5" height="5" fill="#E82229"/>
<path d="M418.55,956.87 V935.80 M412.80,935.80 H424.30 M412.80,956.87 H424.30" stroke="#3BAF3F" stroke-width="1.3" fill="none"/>
<path d="M418.55,912.85 L421.55,918.07 L415.55,918.07 Z" fill="#3BAF3F"/>
<path d="M413.35,936.46 L416.35,941.68 L410.35,941.68 Z" fill="#3BAF3F"/>
<path d="M423.75,936.46 L426.75,941.68 L420.75,941.68 Z" fill="#3BAF3F"/>
<path d="M418.55,960.06 L421.55,965.28 L415.55,965.28 Z" fill="#3BAF3F"/>
<path d="M418.55,971.44 L421.55,976.66 L415.55,976.66 Z" fill="#3BAF3F"/>
<path d="M328.70,829.10 V998.60 H442.80" stroke="#000" stroke-width="1.8" fill="none"/>
<line x1="320.70" y1="998.60" x2="328.70" y2="998.60" stroke="#000" stroke-width="1.8"/>
<text x="319.40" y="1002.90" font-size="12" text-anchor="end" font-weight="normal" font-style="normal" fill="#111" >0</text>
<line x1="320.70" y1="956.45" x2="328.70" y2="956.45" stroke="#000" stroke-width="1.8"/>
<text x="319.40" y="960.75" font-size="12" text-anchor="end" font-weight="normal" font-style="normal" fill="#111" >1</text>
<line x1="320.70" y1="914.30" x2="328.70" y2="914.30" stroke="#000" stroke-width="1.8"/>
<text x="319.40" y="918.60" font-size="12" text-anchor="end" font-weight="normal" font-style="normal" fill="#111" >2</text>
<line x1="320.70" y1="872.15" x2="328.70" y2="872.15" stroke="#000" stroke-width="1.8"/>
<text x="319.40" y="876.45" font-size="12" text-anchor="end" font-weight="normal" font-style="normal" fill="#111" >3</text>
<line x1="320.70" y1="830.00" x2="328.70" y2="830.00" stroke="#000" stroke-width="1.8"/>
<text x="319.40" y="834.30" font-size="12" text-anchor="end" font-weight="normal" font-style="normal" fill="#111" >4</text>
<line x1="350.80" y1="998.60" x2="350.80" y2="1006.60" stroke="#000" stroke-width="1.8"/>
<line x1="384.55" y1="998.60" x2="384.55" y2="1006.60" stroke="#000" stroke-width="1.8"/>
<line x1="418.55" y1="998.60" x2="418.55" y2="1006.60" stroke="#000" stroke-width="1.8"/>
<text x="352.80" y="1018.60" font-size="12.5" text-anchor="end" fill="#111" transform="rotate(-45 352.80 1018.60)">WT</text>
<text x="386.55" y="1018.60" font-size="12.5" text-anchor="end" fill="#111" transform="rotate(-45 386.55 1018.60)">Sham</text>
<text x="420.55" y="1018.60" font-size="12.5" text-anchor="end" fill="#111" transform="rotate(-45 420.55 1018.60)">CL-EVLPs</text>
<text x="385.00" y="799.30" font-size="13.7" text-anchor="middle" fill="#111" font-style="normal">HIF-1α</text>
<text x="286.50" y="914.00" font-size="13.8" text-anchor="middle" fill="#111" transform="rotate(-90 286.50 914.00)" xml:space="preserve">HIF-1α expression</text>
<text x="303.20" y="913.40" font-size="13.8" text-anchor="middle" fill="#111" transform="rotate(-90 303.20 913.40)" xml:space="preserve">(Relative β-actin)</text>
<path d="M350.6,860.5 V849.9 H381.8 V860.5 M387.5,860.5 V849.9 H419.0 V860.5" stroke="#000" stroke-width="1.8" fill="none"/>
<path d="M366.30,832.80 L366.30,840.80 M362.84,834.80 L369.76,838.80 M362.84,838.80 L369.76,834.80 " stroke="#111" stroke-width="1.6" fill="none"/>
<path d="M403.40,832.80 L403.40,840.80 M399.94,834.80 L406.86,838.80 M399.94,838.80 L406.86,834.80 " stroke="#111" stroke-width="1.6" fill="none"/>
<rect x="521.95" y="966.20" width="19.10" height="32.40" fill="#8BA2D2" stroke="#1E4CA0" stroke-width="2.7"/>
<rect x="556.15" y="890.94" width="19.10" height="107.66" fill="#F28B8B" stroke="#E82229" stroke-width="2.7"/>
<rect x="589.85" y="953.71" width="19.10" height="44.89" fill="#9DD69A" stroke="#3BAF3F" stroke-width="2.7"/>
<rect x="520.60" y="964.85" width="21.80" height="3.8" fill="#1E4CA0"/>
<circle cx="523.00" cy="965.25" r="1.9" fill="#1E4CA0"/>
<circle cx="527.25" cy="965.25" r="1.9" fill="#1E4CA0"/>
<circle cx="531.50" cy="965.25" r="1.9" fill="#1E4CA0"/>
<circle cx="535.75" cy="965.25" r="1.9" fill="#1E4CA0"/>
<circle cx="540.00" cy="965.25" r="1.9" fill="#1E4CA0"/>
<path d="M565.70,908.15 V869.34 M559.95,869.34 H571.45 M559.95,908.15 H571.45" stroke="#E82229" stroke-width="1.3" fill="none"/>
<rect x="563.20" y="836.80" width="5" height="5" fill="#E82229"/>
<rect x="563.20" y="846.92" width="5" height="5" fill="#E82229"/>
<rect x="563.20" y="891.48" width="5" height="5" fill="#E82229"/>
<rect x="563.20" y="921.85" width="5" height="5" fill="#E82229"/>
<rect x="563.20" y="933.66" width="5" height="5" fill="#E82229"/>
<path d="M599.40,957.43 V945.27 M593.65,945.27 H605.15 M593.65,957.43 H605.15" stroke="#3BAF3F" stroke-width="1.3" fill="none"/>
<path d="M599.40,924.59 L602.40,929.81 L596.40,929.81 Z" fill="#3BAF3F"/>
<path d="M599.40,942.48 L602.40,947.70 L596.40,947.70 Z" fill="#3BAF3F"/>
<path d="M594.20,955.64 L597.20,960.86 L591.20,960.86 Z" fill="#3BAF3F"/>
<path d="M604.60,960.71 L607.60,965.93 L601.60,965.93 Z" fill="#3BAF3F"/>
<path d="M594.20,960.71 L597.20,965.93 L591.20,965.93 Z" fill="#3BAF3F"/>
<path d="M508.50,828.95 V998.60 H613.00" stroke="#000" stroke-width="1.8" fill="none"/>
<line x1="500.50" y1="998.60" x2="508.50" y2="998.60" stroke="#000" stroke-width="1.8"/>
<text x="499.20" y="1002.90" font-size="12" text-anchor="end" font-weight="normal" font-style="normal" fill="#111" >0</text>
<line x1="500.50" y1="964.85" x2="508.50" y2="964.85" stroke="#000" stroke-width="1.8"/>
<text x="499.20" y="969.15" font-size="12" text-anchor="end" font-weight="normal" font-style="normal" fill="#111" >1</text>
<line x1="500.50" y1="931.10" x2="508.50" y2="931.10" stroke="#000" stroke-width="1.8"/>
<text x="499.20" y="935.40" font-size="12" text-anchor="end" font-weight="normal" font-style="normal" fill="#111" >2</text>
<line x1="500.50" y1="897.35" x2="508.50" y2="897.35" stroke="#000" stroke-width="1.8"/>
<text x="499.20" y="901.65" font-size="12" text-anchor="end" font-weight="normal" font-style="normal" fill="#111" >3</text>
<line x1="500.50" y1="863.60" x2="508.50" y2="863.60" stroke="#000" stroke-width="1.8"/>
<text x="499.20" y="867.90" font-size="12" text-anchor="end" font-weight="normal" font-style="normal" fill="#111" >4</text>
<line x1="500.50" y1="829.85" x2="508.50" y2="829.85" stroke="#000" stroke-width="1.8"/>
<text x="499.20" y="834.15" font-size="12" text-anchor="end" font-weight="normal" font-style="normal" fill="#111" >5</text>
<line x1="531.50" y1="998.60" x2="531.50" y2="1006.60" stroke="#000" stroke-width="1.8"/>
<line x1="565.70" y1="998.60" x2="565.70" y2="1006.60" stroke="#000" stroke-width="1.8"/>
<line x1="599.40" y1="998.60" x2="599.40" y2="1006.60" stroke="#000" stroke-width="1.8"/>
<text x="533.50" y="1018.60" font-size="12.5" text-anchor="end" fill="#111" transform="rotate(-45 533.50 1018.60)">WT</text>
<text x="567.70" y="1018.60" font-size="12.5" text-anchor="end" fill="#111" transform="rotate(-45 567.70 1018.60)">Sham</text>
<text x="601.40" y="1018.60" font-size="12.5" text-anchor="end" fill="#111" transform="rotate(-45 601.40 1018.60)">CL-EVLPs</text>
<text x="565.80" y="796.60" font-size="14" text-anchor="middle" fill="#111" font-style="normal">p-NF-κB p65</text>
<text x="466.00" y="913.80" font-size="14" text-anchor="middle" fill="#111" transform="rotate(-90 466.00 913.80)" xml:space="preserve">p-NF-κB p65 expression</text>
<text x="483.80" y="916.90" font-size="13.8" text-anchor="middle" fill="#111" transform="rotate(-90 483.80 916.90)" xml:space="preserve">(Relative β-actin)</text>
<path d="M531.6,829.6 V819.0 H562.6 V829.6 M568.3,829.6 V819.0 H599.3 V829.6" stroke="#000" stroke-width="1.8" fill="none"/>
<path d="M546.90,802.70 L546.90,810.70 M543.44,804.70 L550.36,808.70 M543.44,808.70 L550.36,804.70 " stroke="#111" stroke-width="1.6" fill="none"/>
<path d="M584.00,802.70 L584.00,810.70 M580.54,804.70 L587.46,808.70 M580.54,808.70 L587.46,804.70 " stroke="#111" stroke-width="1.6" fill="none"/>
<rect x="698.25" y="966.40" width="19.40" height="32.40" fill="#8BA2D2" stroke="#1E4CA0" stroke-width="2.7"/>
<rect x="731.55" y="910.71" width="20.00" height="88.09" fill="#F28B8B" stroke="#E82229" stroke-width="2.7"/>
<rect x="765.35" y="943.79" width="20.00" height="55.01" fill="#9DD69A" stroke="#3BAF3F" stroke-width="2.7"/>
<rect x="696.90" y="965.05" width="22.10" height="3.8" fill="#1E4CA0"/>
<circle cx="699.30" cy="965.45" r="1.9" fill="#1E4CA0"/>
<circle cx="703.62" cy="965.45" r="1.9" fill="#1E4CA0"/>
<circle cx="707.95" cy="965.45" r="1.9" fill="#1E4CA0"/>
<circle cx="712.27" cy="965.45" r="1.9" fill="#1E4CA0"/>
<circle cx="716.60" cy="965.45" r="1.9" fill="#1E4CA0"/>
<path d="M741.55,927.92 V890.12 M735.80,890.12 H747.30 M735.80,927.92 H747.30" stroke="#E82229" stroke-width="1.3" fill="none"/>
<rect x="739.05" y="841.05" width="5" height="5" fill="#E82229"/>
<rect x="739.05" y="893.36" width="5" height="5" fill="#E82229"/>
<rect x="739.05" y="917.66" width="5" height="5" fill="#E82229"/>
<rect x="739.05" y="926.44" width="5" height="5" fill="#E82229"/>
<rect x="739.05" y="952.42" width="5" height="5" fill="#E82229"/>
<path d="M775.35,959.31 V924.55 M769.60,924.55 H781.10 M769.60,959.31 H781.10" stroke="#3BAF3F" stroke-width="1.3" fill="none"/>
<path d="M775.35,870.79 L778.35,876.01 L772.35,876.01 Z" fill="#3BAF3F"/>
<path d="M767.85,950.11 L770.85,955.33 L764.85,955.33 Z" fill="#3BAF3F"/>
<path d="M782.85,950.11 L785.85,955.33 L779.85,955.33 Z" fill="#3BAF3F"/>
<path d="M775.35,955.17 L778.35,960.39 L772.35,960.39 Z" fill="#3BAF3F"/>
<path d="M775.35,972.04 L778.35,977.26 L772.35,977.26 Z" fill="#3BAF3F"/>
<path d="M685.60,829.15 V998.80 H800.00" stroke="#000" stroke-width="1.8" fill="none"/>
<line x1="677.60" y1="998.80" x2="685.60" y2="998.80" stroke="#000" stroke-width="1.8"/>
<text x="676.30" y="1003.10" font-size="12" text-anchor="end" font-weight="normal" font-style="normal" fill="#111" >0</text>
<line x1="677.60" y1="965.05" x2="685.60" y2="965.05" stroke="#000" stroke-width="1.8"/>
<text x="676.30" y="969.35" font-size="12" text-anchor="end" font-weight="normal" font-style="normal" fill="#111" >1</text>
<line x1="677.60" y1="931.30" x2="685.60" y2="931.30" stroke="#000" stroke-width="1.8"/>
<text x="676.30" y="935.60" font-size="12" text-anchor="end" font-weight="normal" font-style="normal" fill="#111" >2</text>
<line x1="677.60" y1="897.55" x2="685.60" y2="897.55" stroke="#000" stroke-width="1.8"/>
<text x="676.30" y="901.85" font-size="12" text-anchor="end" font-weight="normal" font-style="normal" fill="#111" >3</text>
<line x1="677.60" y1="863.80" x2="685.60" y2="863.80" stroke="#000" stroke-width="1.8"/>
<text x="676.30" y="868.10" font-size="12" text-anchor="end" font-weight="normal" font-style="normal" fill="#111" >4</text>
<line x1="677.60" y1="830.05" x2="685.60" y2="830.05" stroke="#000" stroke-width="1.8"/>
<text x="676.30" y="834.35" font-size="12" text-anchor="end" font-weight="normal" font-style="normal" fill="#111" >5</text>
<line x1="707.95" y1="998.80" x2="707.95" y2="1006.80" stroke="#000" stroke-width="1.8"/>
<line x1="741.55" y1="998.80" x2="741.55" y2="1006.80" stroke="#000" stroke-width="1.8"/>
<line x1="775.35" y1="998.80" x2="775.35" y2="1006.80" stroke="#000" stroke-width="1.8"/>
<text x="709.95" y="1018.80" font-size="12.5" text-anchor="end" fill="#111" transform="rotate(-45 709.95 1018.80)">WT</text>
<text x="743.55" y="1018.80" font-size="12.5" text-anchor="end" fill="#111" transform="rotate(-45 743.55 1018.80)">Sham</text>
<text x="777.35" y="1018.80" font-size="12.5" text-anchor="end" fill="#111" transform="rotate(-45 777.35 1018.80)">CL-EVLPs</text>
<text x="742.80" y="796.60" font-size="13.8" text-anchor="middle" fill="#111" font-style="normal">VEGFA</text>
<text x="642.80" y="913.70" font-size="13.8" text-anchor="middle" fill="#111" transform="rotate(-90 642.80 913.70)" xml:space="preserve">VEGFA expression</text>
<text x="659.50" y="916.50" font-size="13.8" text-anchor="middle" fill="#111" transform="rotate(-90 659.50 916.50)" xml:space="preserve">(Relative β-actin)</text>
<path d="M707.8,834.6 V824.0 H738.6 V834.6 M744.9,834.6 V824.0 H775.7 V834.6" stroke="#000" stroke-width="1.8" fill="none"/>
<path d="M723.50,807.20 L723.50,815.20 M720.04,809.20 L726.96,813.20 M720.04,813.20 L726.96,809.20 " stroke="#111" stroke-width="1.6" fill="none"/>
<path d="M760.60,807.20 L760.60,815.20 M757.14,809.20 L764.06,813.20 M757.14,813.20 L764.06,809.20 " stroke="#111" stroke-width="1.6" fill="none"/>
</svg></body></html>
